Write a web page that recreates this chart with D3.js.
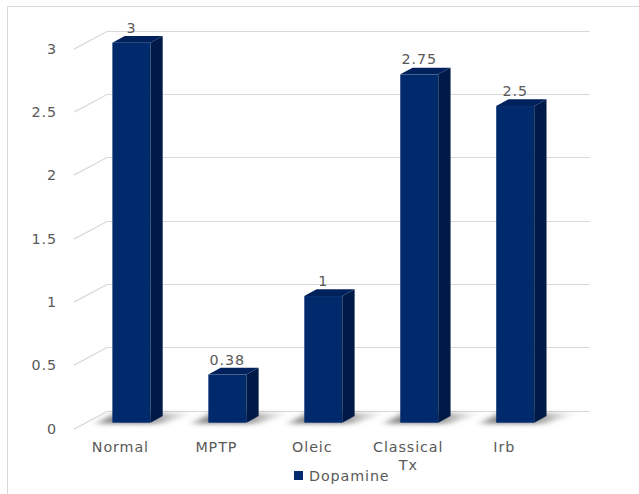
<!DOCTYPE html>
<html><head><meta charset="utf-8">
<script src="https://cdn.jsdelivr.net/npm/d3@7"></script>
<style>
html,body{margin:0;padding:0;background:#fff;}
text{font-family:"DejaVu Sans",Verdana,sans-serif;}
</style></head>
<body><div id="chart"></div>
<script>
const categories = ["Normal", "MPTP", "Oleic", "Classical Tx", "Irb"];
const categoryLines = [["Normal"], ["MPTP"], ["Oleic"], ["Classical", "Tx"], ["Irb"]];
const dopamine = [3, 0.38, 1, 2.75, 2.5];
const dataLabels = ["3", "0.38", "1", "2.75", "2.5"];
const yTicks = [0, 0.5, 1, 1.5, 2, 2.5, 3];
const seriesName = "Dopamine";

const W = 639, H = 494;
const svg = d3.select("#chart").append("svg").attr("width", W).attr("height", H);

// chart area border
svg.append("path").attr("d", `M7.5,${H} L7.5,6.5 L${W},6.5`)
  .attr("fill", "none").attr("stroke", "#d9d9d9").attr("stroke-width", 1);

// front plane scale (bar fronts)
const y = d3.scaleLinear().domain([0, 3]).range([422.7, 42.7]);
const wallDy = -12;
const wallX0 = 107, wallX1 = 590;
const diagDx = -33, diagDy = 17.6;

const x = d3.scalePoint().domain(categories).range([83.4, 563.2]).padding(0.5);
const barW = 38;
const depthDx = 12.3, depthDy = -6.7;

const grid = svg.append("g");
yTicks.forEach(t => {
  const gy = Math.round(y(t) + wallDy) + 0.5;
  grid.append("path")
    .attr("d", `M${wallX0 + diagDx},${gy + diagDy} L${wallX0},${gy} L${wallX1},${gy}`)
    .attr("fill", "none").attr("stroke", "#d9d9d9").attr("stroke-width", 1.2);
  grid.append("text")
    .attr("x", 57).attr("y", gy + diagDy + 5)
    .attr("text-anchor", "end").attr("font-size", 14.3).attr("letter-spacing", 0.9)
    .attr("fill", "#595959").text(t);
});

const defs = svg.append("defs");
const blur = defs.append("filter").attr("id", "blur").attr("x", "-50%").attr("y", "-200%").attr("width", "200%").attr("height", "500%");
blur.append("feGaussianBlur").attr("stdDeviation", "4 2");
const grad = defs.append("linearGradient").attr("id", "shgrad").attr("x1", 0).attr("x2", 1).attr("y1", 0).attr("y2", 0);
grad.append("stop").attr("offset", 0).attr("stop-color", "#444").attr("stop-opacity", 0.6);
grad.append("stop").attr("offset", 0.5).attr("stop-color", "#444").attr("stop-opacity", 0.7);
grad.append("stop").attr("offset", 1).attr("stop-color", "#888").attr("stop-opacity", 0);

const shadows = svg.append("g");
categories.forEach((c, i) => {
  const x0 = x(c) - barW / 2;
  const yb = y(0);
  shadows.append("path")
    .attr("d", `M${x0 - 16},${yb + 1} L${x0 + barW + 10},${yb + 1} L${x0 + barW + 44},${yb - 10} L${x0 + 4},${yb - 10} Z`)
    .attr("fill", "url(#shgrad)").attr("filter", "url(#blur)");
});

const bars = svg.append("g");
categories.forEach((c, i) => {
  const v = dopamine[i];
  const x0 = x(c) - barW / 2, x1 = x0 + barW;
  const yt = y(v), yb = y(0);
  bars.append("path")
    .attr("d", `M${x1},${yt} L${x1 + depthDx},${yt + depthDy} L${x1 + depthDx},${yb + depthDy} L${x1},${yb} Z`)
    .attr("fill", "#001a47");
  bars.append("path")
    .attr("d", `M${x0},${yt} L${x0 + depthDx},${yt + depthDy} L${x1 + depthDx},${yt + depthDy} L${x1},${yt} Z`)
    .attr("fill", "#00215c");
  bars.append("rect")
    .attr("x", x0).attr("y", yt).attr("width", barW).attr("height", yb - yt)
    .attr("fill", "#002a6b");
  bars.append("text")
    .attr("x", x(c)).attr("y", yt - 10)
    .attr("text-anchor", "middle").attr("font-size", 14.3).attr("letter-spacing", 0.9)
    .attr("fill", "#595959").text(dataLabels[i]);
});

const cat = svg.append("g");
categories.forEach((c, i) => {
  const t = cat.append("text")
    .attr("x", x(c) - 11).attr("y", 452)
    .attr("text-anchor", "middle").attr("font-size", 14.3).attr("letter-spacing", 0.9)
    .attr("fill", "#595959");
  categoryLines[i].forEach((ln, j) => {
    t.append("tspan").attr("x", x(c) - 11).attr("dy", j === 0 ? 0 : 18).text(ln);
  });
});

const lg = svg.append("g");
lg.append("rect").attr("x", 294).attr("y", 471).attr("width", 9).attr("height", 9).attr("fill", "#002a6b");
lg.append("text").attr("x", 309).attr("y", 481).attr("font-size", 14.3).attr("letter-spacing", 0.9)
  .attr("fill", "#595959").text(seriesName);
</script>
</body></html>
